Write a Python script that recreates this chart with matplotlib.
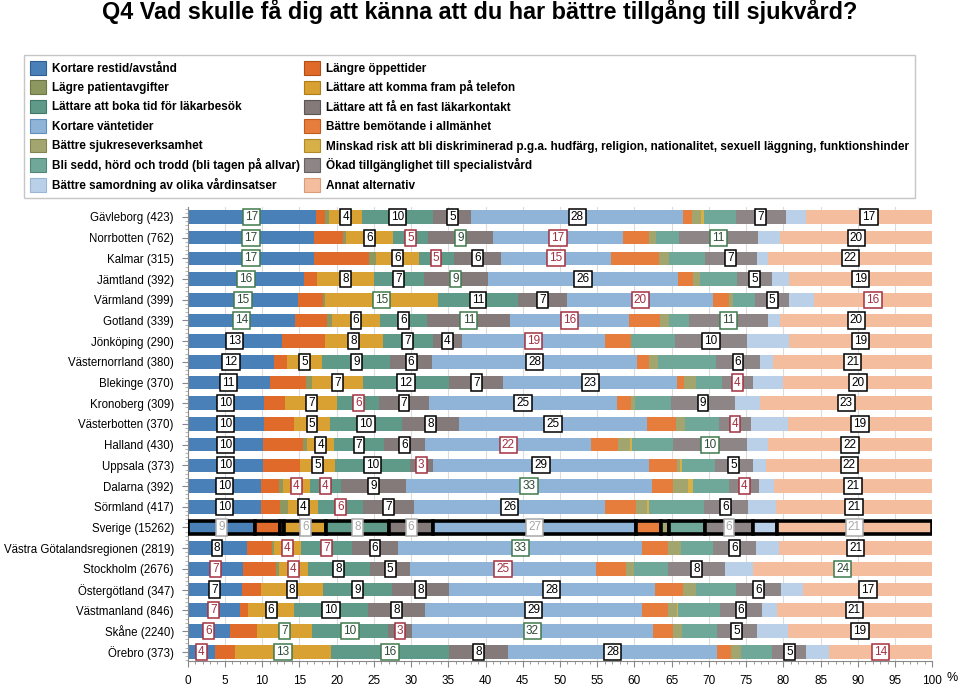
import numpy as np
import matplotlib
matplotlib.use("Agg")
import matplotlib.pyplot as plt
from matplotlib.patches import Patch
from matplotlib import font_manager
from matplotlib.ticker import MultipleLocator

regions = ["Gävleborg (423)", "Norrbotten (762)", "Kalmar (315)", "Jämtland (392)", "Värmland (399)",
           "Gotland (339)", "Jönköping (290)", "Västernorrland (380)", "Blekinge (370)", "Kronoberg (309)",
           "Västerbotten (370)", "Halland (430)", "Uppsala (373)", "Dalarna (392)", "Sörmland (417)",
           "Sverige (15262)", "Västra Götalandsregionen (2819)", "Stockholm (2676)", "Östergötland (347)",
           "Västmanland (846)", "Skåne (2240)", "Örebro (373)"]

series_names = ["Kortare restid/avstånd", "Längre öppettider", "Lägre patientavgifter",
                "Lättare att komma fram på telefon", "Lättare att boka tid för läkarbesök",
                "Lättare att få en fast läkarkontakt", "Kortare väntetider", "Bättre bemötande i allmänhet",
                "Bättre sjukreseverksamhet",
                "Minskad risk att bli diskriminerad p.g.a. hudfärg, religion, nationalitet, sexuell läggning, funktionshinder",
                "Bli sedd, hörd och trodd (bli tagen på allvar)", "Ökad tillgänglighet till specialistvård",
                "Bättre samordning av olika vårdinsatser", "Annat alternativ"]

kortare_restid = [17.2, 17.0, 17.0, 15.6, 14.8, 14.4, 12.6, 11.6, 11.0, 10.2, 10.2, 10.1, 10.1, 9.85, 9.85, 9.1, 7.9, 7.4, 7.25, 7.0, 5.7, 3.7]
langre_oppettider = [1.3, 3.8, 7.3, 1.8, 3.4, 4.3, 5.8, 1.7, 4.9, 2.9, 4.1, 5.4, 5.0, 2.35, 2.55, 3.3, 3.4, 4.5, 2.6, 1.1, 3.65, 2.6]
lagre_avgifter = [0.5, 0.5, 1.0, 0.0, 0.3, 0.7, 0.0, 0.0, 0.8, 0.0, 0.0, 0.5, 0.0, 0.6, 1.1, 0.6, 0.3, 0.4, 0.0, 0.0, 0.0, 0.0]
telefon = [4.4, 6.3, 5.7, 7.6, 15.1, 6.4, 7.8, 4.8, 6.8, 7.0, 4.8, 3.7, 4.7, 3.6, 4.0, 5.6, 3.6, 3.8, 8.3, 6.2, 7.4, 12.95]
boka_tid = [9.6, 4.7, 4.7, 6.7, 10.8, 6.4, 6.7, 9.1, 11.6, 5.6, 9.7, 6.6, 10.0, 4.2, 6.0, 8.4, 6.8, 8.4, 9.3, 9.9, 10.1, 15.85]
fast_lakarkontakt = [5.1, 8.7, 6.4, 8.6, 6.6, 11.1, 3.9, 5.6, 7.3, 6.7, 7.6, 5.6, 3.1, 8.7, 6.9, 6.0, 6.3, 5.4, 7.6, 7.7, 3.3, 7.9]
vantetider = [28.4, 17.4, 14.7, 25.6, 19.6, 16.0, 19.3, 27.6, 23.3, 25.3, 25.3, 22.3, 29.1, 33.1, 25.7, 27.2, 32.75, 24.9, 27.65, 29.15, 32.3, 28.1]
bemotande = [1.2, 3.5, 6.5, 1.9, 2.1, 4.1, 3.5, 1.6, 0.9, 1.8, 3.9, 3.6, 3.7, 2.8, 4.1, 3.4, 3.5, 4.1, 3.8, 3.5, 2.7, 1.9]
sjukresor = [1.3, 1.0, 1.3, 1.0, 0.5, 1.2, 0.0, 1.2, 1.6, 0.6, 1.2, 1.6, 0.4, 2.0, 1.5, 1.1, 1.65, 1.0, 1.7, 1.1, 1.3, 1.3]
diskriminering = [0.3, 0, 0, 0, 0, 0, 0, 0, 0, 0, 0, 0.3, 0.3, 0.7, 0.3, 0, 0, 0, 0, 0.2, 0, 0]
bli_sedd = [4.3, 3.1, 4.9, 5.0, 3.0, 2.7, 5.9, 7.7, 3.5, 4.8, 4.6, 5.5, 4.4, 4.85, 7.35, 4.8, 4.4, 4.6, 5.45, 5.6, 4.6, 4.2]
specialistvard = [6.7, 10.6, 6.9, 4.7, 4.6, 10.6, 9.6, 6.0, 4.2, 8.6, 4.2, 9.9, 5.1, 3.95, 5.85, 6.4, 5.7, 7.6, 6.05, 5.7, 5.4, 4.6]
samordning = [2.7, 3.0, 1.6, 2.2, 3.3, 1.7, 5.6, 1.7, 4.1, 3.4, 5.0, 2.8, 1.8, 2.0, 3.75, 3.2, 3.1, 3.8, 3.0, 1.95, 4.15, 3.0]
annat = [17.0, 20.4, 22.0, 19.3, 15.9, 20.4, 19.3, 21.4, 20.0, 23.1, 19.4, 22.1, 22.3, 21.3, 21.05, 20.9, 20.6, 24.1, 17.3, 20.9, 19.4, 13.9]

# significance flag of each shown label: g = higher, r = lower, k = neutral, s = total
labeled_series = [0, 3, 4, 5, 6, 11, 13]
flags = ["gkkkkkk", "gkrgrgk", "gkrkrkk", "gkkgkkk", "ggkkrkr", "gkkgrgk", "kkkkrkk", "kkkkkkk",
         "kkkkkrk", "kkrkkkk", "kkkkkrk", "kkkkrgk", "kkkrkkk", "krrkgrk", "kkrkkkk", "sssssss",
         "krrkgkk", "rrkkrkg", "kkkkkkk", "rkkkkkk", "rggrgkk", "rggkkkr"]

series = [kortare_restid, langre_oppettider, lagre_avgifter, telefon, boka_tid, fast_lakarkontakt,
          vantetider, bemotande, sjukresor, diskriminering, bli_sedd, specialistvard, samordning, annat]

colors = ["#4a80b8", "#e06a2a", "#8c9860", "#d9a032", "#5f9a88", "#857a7a", "#8fb4d8",
          "#e77d3c", "#a2a66e", "#d8b048", "#6fa898", "#8e8686", "#b9d0e8", "#f3bd9e"]
edges = ["#2f5f90", "#b04e18", "#6b7644", "#b07e18", "#3f7866", "#5e5454", "#5d8fc0",
         "#c05a20", "#7f8450", "#b08a28", "#4f8676", "#666060", "#9ab6d4", "#d89c7a"]

names = {f.name for f in font_manager.fontManager.ttflist}
base_font = "Liberation Sans" if "Liberation Sans" in names else "DejaVu Sans"
leg_font = "Liberation Sans Narrow" if "Liberation Sans Narrow" in names else base_font
leg_size = 9.0 if leg_font.endswith("Narrow") else 8.5
plt.rcParams['font.family'] = [base_font, 'DejaVu Sans']

fig = plt.figure(figsize=(9.6, 6.86), dpi=100)
ax = fig.add_axes([187.7 / 960, 1 - 661 / 686, 744.6 / 960, 454 / 686])

n = len(regions)
y = np.arange(n)
left = np.zeros(n)
sverige = regions.index("Sverige (15262)")
for i, vals in enumerate(series):
    vals = np.array(vals, dtype=float)
    bars = ax.barh(y, vals, left=left, height=0.66, color=colors[i], linewidth=0, zorder=2)
    bars[sverige].set_edgecolor("black")
    bars[sverige].set_linewidth(2.6)
    bars[sverige].set_zorder(3)
    if i in labeled_series:
        k = labeled_series.index(i)
        for r in range(n):
            f = flags[r][k]
            if f == "g":
                tc, ec = "#2f4a36", "#3f7a4c"
            elif f == "r":
                tc, ec = "#a33040", "#a33040"
            elif f == "s":
                tc, ec = "#a8a8a8", "#a8a8a8"
            else:
                tc, ec = "black", "black"
            ax.text(left[r] + vals[r] / 2, r, f"{int(round(vals[r]))}", ha="center", va="center",
                    fontsize=8.5, color=tc, zorder=5,
                    bbox=dict(boxstyle="square,pad=0.18", facecolor="white", edgecolor=ec, linewidth=1.1))
    left += vals

ax.set_xlim(0, 100)
ax.set_ylim(21.45, -0.48)
ax.set_yticks(y)
ax.set_yticklabels(regions, fontsize=8.3)
ax.yaxis.set_minor_locator(MultipleLocator(0.2))
ax.xaxis.set_major_locator(MultipleLocator(5))
ax.xaxis.set_minor_locator(MultipleLocator(1))
ax.tick_params(axis="x", which="major", labelsize=8.5, length=4, color="#888888", pad=6)
ax.tick_params(axis="x", which="minor", length=2, color="#888888")
ax.tick_params(axis="y", which="major", length=4, color="#888888", pad=6)
ax.tick_params(axis="y", which="minor", length=2, color="#aaaaaa")
ax.grid(axis="x", which="major", color="#dcdcdc", linewidth=0.8, zorder=0)
ax.set_axisbelow(True)
for s in ["top", "right"]:
    ax.spines[s].set_visible(False)
for s in ["left", "bottom"]:
    ax.spines[s].set_color("#888888")
fig.text(952 / 960, 1 - 678 / 686, "%", fontsize=9, ha="center", va="center")

fig.text(0.5, 1 - 12 / 686, "Q4 Vad skulle få dig att känna att du har bättre tillgång till sjukvård?",
         ha="center", va="center", fontsize=16.8, fontweight="bold")

order = list(range(0, 14, 2)) + list(range(1, 14, 2))
handles = [Patch(facecolor=colors[i], edgecolor=edges[i], linewidth=0.8) for i in order]
labels = [series_names[i] for i in order]
leg = fig.legend(handles, labels, ncol=2, loc="upper left", bbox_to_anchor=(24 / 960, 1 - 55 / 686),
                 prop={"family": leg_font, "weight": "bold", "size": leg_size}, frameon=True, fancybox=False,
                 edgecolor="#b8b8b8", handlelength=1.4, handleheight=1.4, handletextpad=0.5,
                 labelspacing=0.48, columnspacing=0.3, borderpad=0.5, borderaxespad=0)
leg.get_frame().set_linewidth(1.0)

fig.savefig("out.png", dpi=100)
